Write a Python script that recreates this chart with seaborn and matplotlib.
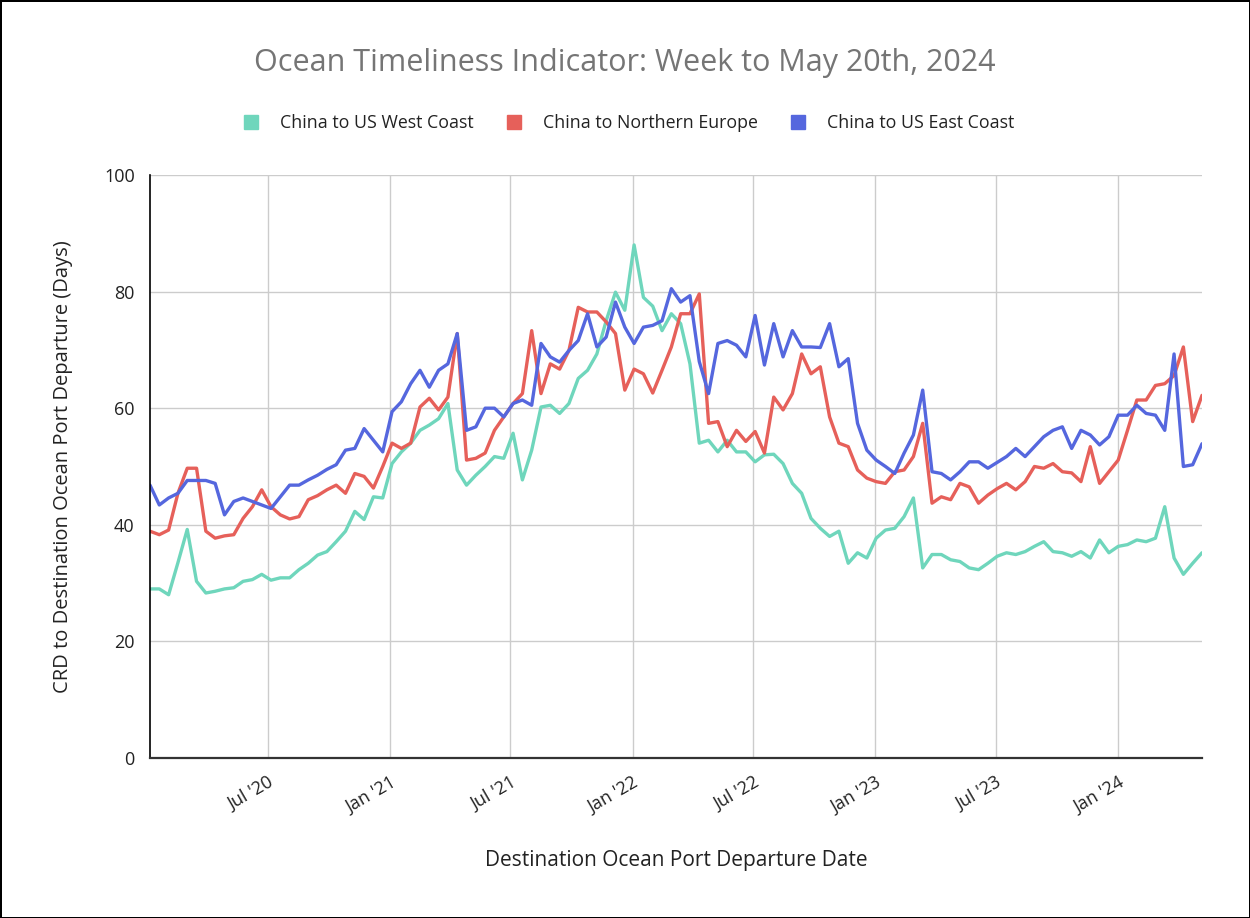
import numpy as np
import pandas as pd
import seaborn as sns
import matplotlib.pyplot as plt
from matplotlib.lines import Line2D

# bi-weekly readings, week starting 2020-01-06
start_date = "2020-01-06"

west_coast = [
    29.0, 29.0, 28.0, 33.5, 39.2, 30.3, 28.3, 28.6, 29.0, 29.2,
    30.3, 30.6, 31.5, 30.5, 30.9, 30.9, 32.3, 33.4, 34.8, 35.4,
    37.1, 38.9, 42.3, 40.9, 44.8, 44.6, 50.5, 52.5, 54.0, 56.2,
    57.1, 58.2, 60.8, 49.4, 46.8, 48.5, 50.0, 51.7, 51.4, 55.7,
    47.7, 52.8, 60.2, 60.5, 59.1, 60.8, 65.1, 66.5, 69.3, 75.0,
    79.9, 76.8, 88.0, 79.0, 77.5, 73.3, 76.2, 74.5, 67.6, 54.0,
    54.5, 52.5, 54.5, 52.5, 52.5, 50.8, 52.0, 52.1, 50.5, 47.1,
    45.4, 41.1, 39.4, 38.0, 38.9, 33.4, 35.2, 34.3, 37.7, 39.1,
    39.4, 41.4, 44.6, 32.6, 34.9, 34.9, 34.0, 33.7, 32.6, 32.3,
    33.4, 34.6, 35.2, 34.9, 35.4, 36.3, 37.1, 35.4, 35.2, 34.6,
    35.4, 34.3, 37.4, 35.2, 36.3, 36.6, 37.4, 37.1, 37.7, 43.1,
    34.3, 31.5, 33.4, 35.2,
]

north_europe = [
    38.9, 38.3, 39.1, 45.4, 49.7, 49.7, 38.9, 37.7, 38.1, 38.3,
    41.1, 43.1, 46.0, 43.1, 41.7, 41.0, 41.4, 44.3, 45.0, 46.0,
    46.8, 45.4, 48.8, 48.3, 46.3, 50.0, 54.0, 53.1, 54.0, 60.2,
    61.7, 59.7, 61.9, 72.8, 51.1, 51.4, 52.3, 56.2, 58.5, 60.8,
    62.5, 73.3, 62.5, 67.6, 66.7, 69.9, 77.3, 76.5, 76.5, 74.8,
    72.8, 63.1, 66.7, 65.9, 62.6, 66.5, 70.5, 76.2, 76.2, 79.6,
    57.4, 57.7, 53.4, 56.2, 54.3, 56.0, 52.3, 61.9, 59.7, 62.5,
    69.3, 65.9, 67.1, 58.5, 54.0, 53.4, 49.4, 48.0, 47.4, 47.1,
    49.1, 49.4, 51.7, 57.4, 43.7, 44.8, 44.3, 47.1, 46.5, 43.7,
    45.1, 46.2, 47.1, 46.0, 47.4, 50.0, 49.7, 50.5, 49.1, 48.9,
    47.4, 53.4, 47.1, 49.1, 51.1, 56.2, 61.4, 61.4, 63.9, 64.2,
    65.6, 70.5, 57.7, 62.2,
]

east_coast = [
    46.8, 43.4, 44.6, 45.4, 47.6, 47.6, 47.6, 47.1, 41.7, 44.0,
    44.6, 44.0, 43.4, 42.8, 44.8, 46.8, 46.8, 47.7, 48.5, 49.5,
    50.3, 52.8, 53.1, 56.5, 54.5, 52.5, 59.4, 61.1, 64.2, 66.5,
    63.6, 66.5, 67.6, 72.8, 56.2, 56.8, 60.0, 60.0, 58.5, 60.8,
    61.4, 60.5, 71.1, 68.8, 67.9, 69.9, 71.6, 76.2, 70.5, 72.2,
    78.2, 73.9, 71.1, 73.9, 74.2, 75.0, 80.5, 78.2, 79.3, 68.0,
    62.5, 71.1, 71.6, 70.8, 68.8, 75.9, 67.4, 74.5, 68.8, 73.3,
    70.5, 70.5, 70.4, 74.5, 67.1, 68.5, 57.4, 52.8, 51.1, 50.0,
    48.8, 52.3, 55.4, 63.1, 49.1, 48.8, 47.7, 49.1, 50.8, 50.8,
    49.7, 50.7, 51.7, 53.1, 51.7, 53.4, 55.1, 56.2, 56.8, 53.1,
    56.2, 55.4, 53.7, 55.1, 58.8, 58.8, 60.5, 59.1, 58.8, 56.2,
    69.3, 50.0, 50.3, 53.9,
]

series_names = ["China to US West Coast", "China to Northern Europe", "China to US East Coast"]
colors = ["#6fd6bc", "#e6605a", "#5567de"]

tick_dates = ["2020-07-01", "2021-01-01", "2021-07-01", "2022-01-01",
              "2022-07-01", "2023-01-01", "2023-07-01", "2024-01-01"]
tick_labels = ["Jul '20", "Jan '21", "Jul '21", "Jan '22",
               "Jul '22", "Jan '23", "Jul '23", "Jan '24"]

dates = pd.date_range(start_date, periods=len(west_coast), freq="14D")
df = pd.DataFrame({
    "Date": np.tile(dates, 3),
    "Days": west_coast + north_europe + east_coast,
    "Route": np.repeat(series_names, len(dates)),
})

sns.set_theme(style="white")
plt.rcParams["font.family"] = ["Open Sans", "DejaVu Sans"]

fig = plt.figure(figsize=(12.5, 9.18), dpi=100)
fig.patch.set_facecolor("white")
fig.patch.set_edgecolor("black")
fig.patch.set_linewidth(2)
ax = fig.add_axes([0.12, 0.1743, 0.8416, 0.6351])

sns.lineplot(data=df, x="Date", y="Days", hue="Route", hue_order=series_names,
             palette=colors, linewidth=2.4, legend=False, ax=ax,
             solid_joinstyle="round", solid_capstyle="round")

ax.set_ylim(0, 100)
ax.set_yticks([0, 20, 40, 60, 80, 100])
ax.set_xlim(dates[0], dates[-1])
ax.set_xticks(pd.to_datetime(tick_dates))
ax.set_xticklabels(tick_labels, rotation=30, ha="right", rotation_mode="anchor")
ax.grid(True, color="#cccccc", linewidth=1)
ax.set_axisbelow(True)
ax.tick_params(axis="both", length=0, labelsize=13, colors="#222222")
ax.tick_params(axis="y", pad=11)
ax.tick_params(axis="x", pad=11)

for side in ["top", "right"]:
    ax.spines[side].set_visible(False)
ax.spines["left"].set_color("black")
ax.spines["left"].set_linewidth(1.2)
ax.spines["bottom"].set_color("#333333")
ax.spines["bottom"].set_linewidth(1.6)

ax.set_xlabel("Destination Ocean Port Departure Date", fontsize=15, color="#222222", labelpad=24)
ax.set_ylabel("CRD to Destination Ocean Port Departure (Days)", fontsize=14.5, color="#222222", labelpad=22)

fig.text(0.5, 0.931, "Ocean Timeliness Indicator: Week to May 20th, 2024",
         ha="center", va="center", fontsize=22, color="#757575")

handles = [Line2D([0], [0], marker="s", linestyle="", markersize=9.5,
                  markerfacecolor=c, markeredgecolor=c) for c in colors]
fig.legend(handles, series_names, loc="center", bbox_to_anchor=(0.499, 0.866), ncol=3,
           frameon=False, fontsize=12.8, handletextpad=0.6, columnspacing=1.3,
           labelcolor="#222222")

fig.savefig("out.png", dpi=100, facecolor="white", edgecolor="black")
